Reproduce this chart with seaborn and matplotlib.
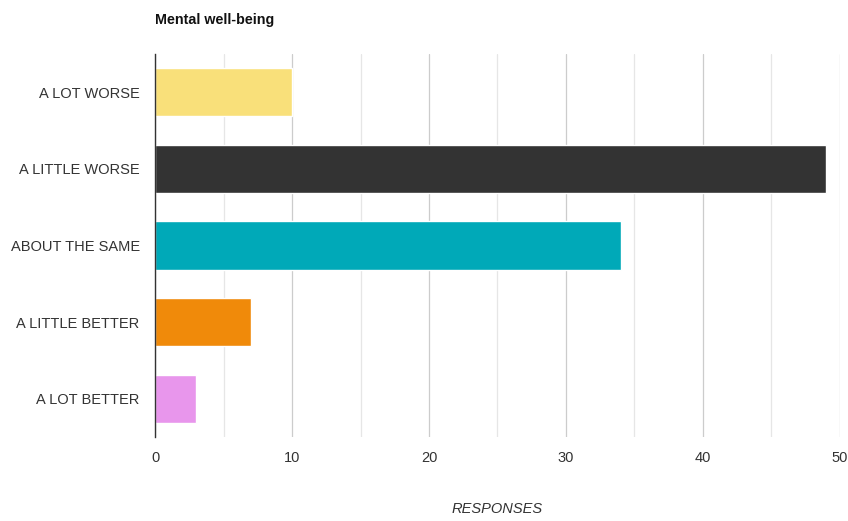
import matplotlib
matplotlib.use("Agg")
import matplotlib.pyplot as plt
import seaborn as sns
import pandas as pd

categories = ["A LOT WORSE", "A LITTLE WORSE", "ABOUT THE SAME", "A LITTLE BETTER", "A LOT BETTER"]
responses = [10, 49, 34, 7, 3]
bar_colors = ["#F9E07A", "#333333", "#00A9B8", "#F08A0A", "#E896EC"]
x_ticks = [0, 10, 20, 30, 40, 50]

sns.set_theme(style="white")
plt.rcParams["font.family"] = ["Liberation Sans", "DejaVu Sans"]

df = pd.DataFrame({"category": categories, "responses": responses})

W, H = 848, 521
fig = plt.figure(figsize=(W / 100, H / 100), dpi=100)
left, right, top, bottom = 155, 840, 54, 437
ax = fig.add_axes([left / W, 1 - bottom / H, (right - left) / W, (bottom - top) / H])

sns.barplot(data=df, x="responses", y="category", hue="category",
            palette=bar_colors, order=categories, hue_order=categories,
            width=0.63, legend=False, ax=ax, saturation=1)

ax.set_xlim(0, 50)
ax.set_xticks(x_ticks)
ax.set_xticks(range(5, 50, 10), minor=True)
ax.grid(axis="x", which="major", color="#CCCCCC", linewidth=0.9)
ax.grid(axis="x", which="minor", color="#E6E6E6", linewidth=0.9)
ax.set_axisbelow(True)

for side in ["top", "right", "bottom"]:
    ax.spines[side].set_visible(False)
ax.spines["left"].set_color("#333333")
ax.spines["left"].set_linewidth(1.0)

ax.tick_params(axis="both", length=0, labelsize=10.5, colors="#333333")
ax.tick_params(axis="x", pad=10)
ax.tick_params(axis="y", pad=11)
ax.set_ylabel("")
ax.set_xlabel("")

# axis title placed in figure coordinates, centred under the plot area
fig.text((left + right) / 2 / W, 1 - 509 / H, "RESPONSES", fontsize=10.5, style="italic",
         color="#333333", ha="center", va="center")

fig.text(left / W, 1 - 20 / H, "Mental well-being", fontsize=10.3, fontweight="bold",
         color="#111111", ha="left", va="center")

fig.savefig("out.png", dpi=100, facecolor="white")
